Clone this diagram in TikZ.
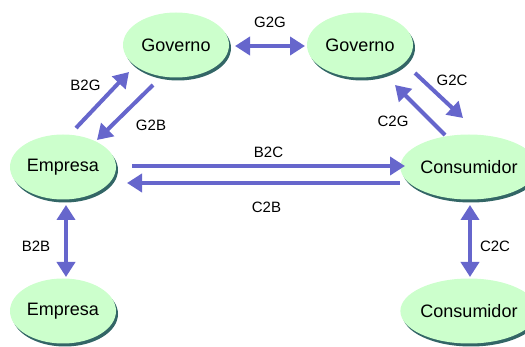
\documentclass[tikz,border=0pt]{standalone}
\usepackage{fontspec}
\setsansfont{Liberation Sans}
\usetikzlibrary{arrows.meta,shapes.geometric,shadows,calc}
\definecolor{nodegreen}{HTML}{CCFFCC}
\definecolor{nodeshadow}{HTML}{336666}
\definecolor{arrowblue}{HTML}{6666CC}

\begin{document}
\begin{tikzpicture}[x=1pt,y=-1pt,font=\sffamily,
  actor/.style={ellipse, fill=nodegreen, minimum width=106pt, minimum height=65pt, inner sep=0pt,
    font=\sffamily\fontsize{18}{21}\selectfont,
    drop shadow={shadow xshift=2pt, shadow yshift=-3pt, fill=nodeshadow, opacity=1}},
  flow/.style={draw=arrowblue, line width=4pt, -{Triangle[length=15pt,width=18pt]}},
  flows/.style={flow, {Triangle[length=15pt,width=18pt]}-{Triangle[length=15pt,width=18pt]}},
  lbl/.style={font=\sffamily\fontsize{15}{17}\selectfont, inner sep=0pt}
]

\useasboundingbox (0,0) rectangle (525,347);

% actors
\node[actor] (gov1) at (176,45) {Governo};
\node[actor] (gov2) at (360,45) {Governo};
\node[actor] (emp1) at (63,167) {Empresa};
\node[actor] (con1) at (469,167) {Consumidor};
\node[actor] (emp2) at (63,311) {Empresa};
\node[actor] (con2) at (469,311) {Consumidor};

% governo <-> governo
\draw[flows] ($(gov1)+(59,1)$) -- node[lbl,midway,yshift=24pt] (g2g) {G2G} ($(gov2)+(-55,1)$);

% empresa <-> governo
\draw[flow] ($(emp1)+(13,-39)$) -- node[lbl,midway,xshift=-17pt,yshift=15pt] (b2g) {B2G} ($(gov1)+(-47,27)$);
\draw[flow] ($(gov1)+(-23,40)$) -- node[lbl,midway,xshift=26pt,yshift=-13pt] (g2b) {G2B} ($(emp1)+(34,-27)$);

% governo <-> consumidor
\draw[flow] ($(gov2)+(55,28)$) -- node[lbl,midway,xshift=13pt,yshift=15pt] (g2c) {G2C} ($(con1)+(-6,-49)$);
\draw[flow] ($(con1)+(-24,-32)$) -- node[lbl,midway,xshift=-27pt,yshift=-11pt] (c2g) {C2G} ($(gov2)+(35,40)$);

% empresa <-> consumidor
\draw[flow] ($(emp1)+(69,-1)$) -- node[lbl,midway,yshift=14pt] (b2c) {B2C} ($(con1)+(-64,-1)$);
\draw[flow] ($(con1)+(-69,16)$) -- node[lbl,midway,xshift=3pt,yshift=-24pt] (c2b) {C2B} ($(emp1)+(64,16)$);

% same kind
\draw[flows] ($(emp1)+(3,38)$) -- node[lbl,midway,xshift=-30pt,yshift=-5pt] (b2b) {B2B} ($(emp2)+(3,-34)$);
\draw[flows] ($(con1)+(1,38)$) -- node[lbl,midway,xshift=25pt,yshift=-5pt] (c2c) {C2C} ($(con2)+(1,-34)$);

\end{tikzpicture}
\end{document}
